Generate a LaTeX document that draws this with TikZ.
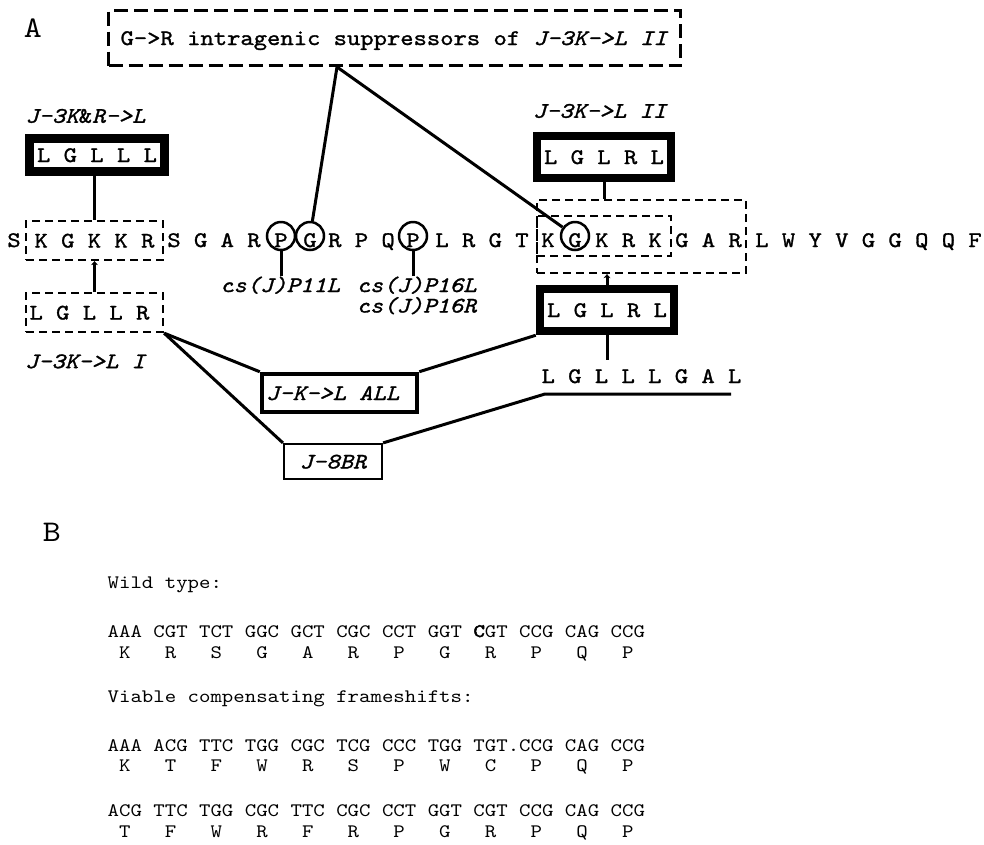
\documentclass[tikz,border=0pt]{standalone}
\usepackage{fontspec}
\newfontfamily\seqfont{lmmono10-regular.otf}[ItalicFont=lmmono10-italic.otf,
  FakeBold=1.3, FakeStretch=1.143]
\newfontfamily\dnafont{lmmono10-regular.otf}[FakeStretch=1.143,
  BoldFont=lmmono10-regular.otf, BoldFeatures={FakeBold=2.5}]
\usetikzlibrary{positioning}
\usetikzlibrary{arrows.meta}
\frenchspacing
\tikzstyle{seq} = [inner sep=0pt, anchor=base, font=\fontsize{22.2}{24}\seqfont]
\tikzstyle{mut} = [seq, font=\fontsize{22.2}{24}\seqfont\itshape]
\tikzstyle{ring} = [seq, circle, draw=black, line width=2.5pt, minimum size=28pt,
text height=22pt, text depth=0pt]
\tikzstyle{dashbox} = [draw=black, line width=2.3pt, dash pattern=on 8pt off 5pt,
inner sep=0pt, text height=14pt, text depth=0pt, font=\fontsize{22.2}{24}\seqfont]
\tikzstyle{bigdash} = [dashbox, line width=3pt, dash pattern=on 14pt off 6pt]
\tikzstyle{heavy} = [dashbox, solid, line width=8.5pt]
\tikzstyle{midbox} = [heavy, line width=4.5pt, font=\fontsize{22.2}{24}\seqfont\itshape]
\tikzstyle{thinbox} = [midbox, line width=2.2pt]
\tikzstyle{link} = [line width=3pt]
\tikzstyle{uptip} = [-{Stealth[length=4pt,width=7pt]}]
\tikzstyle{panel} = [inner sep=0pt, font=\fontsize{30}{32}\dnafont]
\tikzstyle{dna} = [inner sep=0pt, anchor=base west, font=\fontsize{19.05}{21}\dnafont]

\begin{document}
\begin{tikzpicture}[x=1pt, y=-1pt]
  \useasboundingbox (0,0) rectangle (984,844);

  % panel A
  \node[panel] (pa) at (33,28) {A};

  \node[bigdash, minimum width=572pt, minimum height=55pt] (sup) at (394.5,38)
    {G->R intragenic suppressors of \textit{J-3K->L II}};
  \coordinate (hub) at ([xshift=-57.5pt]sup.south);

  % the sequence
  \node[seq] (s1) at (14,247) {S};
  \node[dashbox, minimum width=137pt, minimum height=39pt] (kg) at (94.5,240.5) {K G K K R};
  \node[seq] (s2) at (214,247) {S G A R};
  \node[ring] (cP1) at (281,247) {P};
  \node[ring] (cG1) at (310,247) {G};
  \node[seq] (s3) at (361.5,247) {R P Q};
  \node[ring] (cP2) at (413,247) {P};
  \node[seq] (s4) at (482,247) {L R G T};
  \node[seq] (s5) at (548,247) {K};
  \node[ring] (cG2) at (575,247) {G};
  \node[seq] (s6) at (628.5,247) {K R K};
  \node[seq] (s7) at (708.5,247) {G A R};
  \node[seq] (s8) at (868.5,247) {L W Y V G G Q Q F};

  \node[dashbox, minimum width=209pt, minimum height=73pt] (outer) at (641.5,236.5) {};
  \node[dashbox, minimum width=134pt, minimum height=40pt] (inner) at (604,236) {};

  % cs mutants
  \node[mut] (p11) at (280,292) {cs(J)P11L};
  \node[mut] (p16a) at (416.5,292) {cs(J)P16L};
  \node[mut, below=20.5pt of p16a.base, anchor=base] (p16b) {cs(J)P16R};

  % left side
  \node[heavy, minimum width=135pt, minimum height=33pt] (b1) at (97,155) {L G L L L};
  \node[mut, above=11.5pt of b1.north west, anchor=base west] (n1) {J-3K{\upshape\&}R->L};
  \node[dashbox, minimum width=137pt, minimum height=39pt]
    (lgllr) at (94.5,312.5) {\makebox[130pt][l]{L G L L R}};
  \node[mut, below=35pt of lgllr.south west, anchor=base west] (n2) {J-3K->L I};

  % right side
  \node[heavy, minimum width=134pt, minimum height=42pt] (b2) at (604,157) {L G L R L};
  \node[mut, above=14pt of b2.north west, anchor=base west] (n3) {J-3K->L II};
  \node[heavy, minimum width=134pt, minimum height=42pt] (b3) at (607,310) {L G L R L};
  \node[seq] (lg8) at (641.5,383) {L G L L L G A L};
  \coordinate (lgtop) at ([yshift=9pt]lg8.north);
  \coordinate (ulA) at (545,394);
  \coordinate (ulB) at (731,394);

  % bottom boxes
  \node[midbox, minimum width=155pt, minimum height=38pt]
    (jall) at (339.5,393) {\makebox[147pt][l]{J-K->L ALL}};
  \node[thinbox, minimum width=98pt, minimum height=35pt] (j8) at (333,461.5) {J-8BR};

  % connectors
  \draw[link] (hub) -- (cG1);
  \draw[link] (hub) -- (cG2);
  \draw[link] (cP1.south) -- (cP1.south |- p11.north);
  \draw[link] (cP2.south) -- (cP2.south |- p16a.north);
  \draw[link] (kg.north) -- (kg.north |- b1.south);
  \draw[link, uptip] (lgllr.north) -- (kg.south);
  \draw[link] (b2.south) -- (b2.south |- outer.north);
  \draw[link, uptip] (b3.north) -- (b3.north |- outer.south);
  \draw[link] (b3.south) -- (b3.south |- lgtop);
  \draw[link] (lgllr.south east) -- (jall.north west);
  \draw[link] (lgllr.south east) -- (j8.north west);
  \draw[link] (jall.north east) -- (b3.south west);
  \draw[link] (j8.north east) -- (ulA) -- (ulB);

  % panel B
  \node[panel] (pb) at (52,532.5) {B};
  \node[dna] (wt) at (107.5,588) {Wild type:};
  \node[dna] (wt1) at (107.5,637) {AAA CGT TCT GGC GCT CGC CCT GGT \textbf{C}GT CCG CAG CCG};
  \node[dna] (wt2) at (107.5,658) {~K~~~R~~~S~~~G~~~A~~~R~~~P~~~G~~~R~~~P~~~Q~~~P};
  \node[dna] (fs) at (107.5,702) {Viable compensating frameshifts:};
  \node[dna] (fa1) at (107.5,751) {AAA ACG TTC TGG CGC TCG CCC TGG TGT.CCG CAG CCG};
  \node[dna] (fa2) at (107.5,771) {~K~~~T~~~F~~~W~~~R~~~S~~~P~~~W~~~C~~~P~~~Q~~~P};
  \node[dna] (fb1) at (107.5,816) {ACG TTC TGG CGC TTC CGC CCT GGT CGT CCG CAG CCG};
  \node[dna] (fb2) at (107.5,837) {~T~~~F~~~W~~~R~~~F~~~R~~~P~~~G~~~R~~~P~~~Q~~~P};
\end{tikzpicture}
\end{document}
